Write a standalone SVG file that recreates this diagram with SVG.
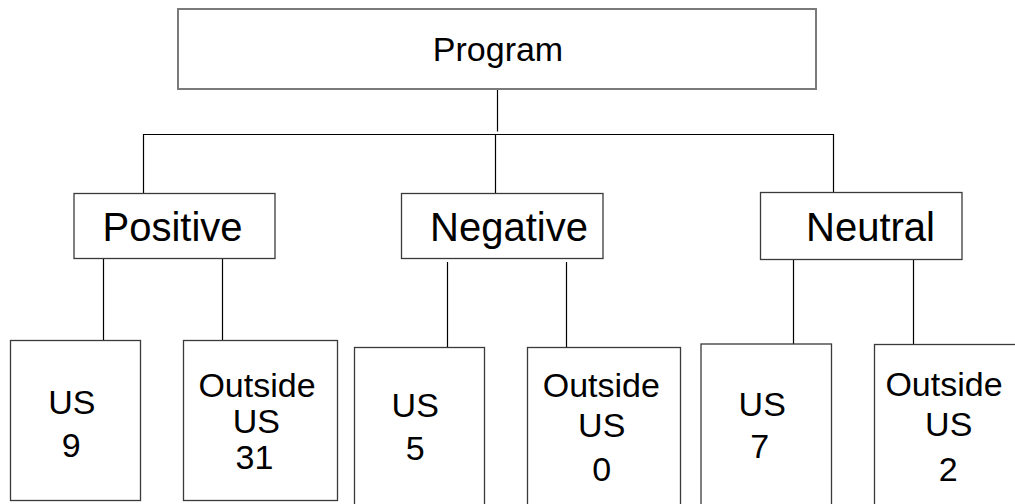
<svg xmlns="http://www.w3.org/2000/svg" width="1015" height="504" viewBox="0 0 1015 504">
<style>
  .box { fill: #ffffff; stroke: #3a3a3a; stroke-width: 1.3; }
  .top { fill: #ffffff; stroke: #7a7a7a; stroke-width: 2; }
  .conn line { stroke: #000000; stroke-width: 1.2; }
  text { font-family: "Liberation Sans", Arial, sans-serif; fill: #000000; text-anchor: middle; }
  .t1 { font-size: 34px; }
  .t2 { font-size: 40px; }
  .t3 { font-size: 34px; }
</style>
<rect width="1015" height="504" fill="#ffffff"/>
<g id="connectors" class="conn">
  <line x1="497.5" y1="89" x2="497.5" y2="131.5"/>
  <line x1="143" y1="134.5" x2="833.5" y2="134.5"/>
  <line x1="143.5" y1="134" x2="143.5" y2="194"/>
  <line x1="495.5" y1="135" x2="495.5" y2="198"/>
  <line x1="833.5" y1="134" x2="833.5" y2="193"/>
  <line x1="103.5" y1="257" x2="103.5" y2="341"/>
  <line x1="222.5" y1="257" x2="222.5" y2="341"/>
  <line x1="447.5" y1="262" x2="447.5" y2="347"/>
  <line x1="566.5" y1="262" x2="566.5" y2="347"/>
  <line x1="793.5" y1="259" x2="793.5" y2="344"/>
  <line x1="913.5" y1="259" x2="913.5" y2="345"/>
</g>
<g id="program">
  <rect class="top" x="178" y="9" width="638" height="80"/>
  <text class="t1" x="498" y="61">Program</text>
</g>
<g id="positive">
  <rect class="box" x="74" y="193.5" width="201" height="65"/>
  <text class="t2" x="172.5" y="241">Positive</text>
</g>
<g id="negative">
  <rect class="box" x="401.5" y="193.5" width="201.5" height="65"/>
  <text class="t2" x="509" y="241">Negative</text>
</g>
<g id="neutral">
  <rect class="box" x="760.5" y="192.5" width="201.5" height="67"/>
  <text class="t2" x="870.5" y="241">Neutral</text>
</g>
<g id="pos-us">
  <rect class="box" x="10.5" y="340.5" width="130" height="160"/>
  <text class="t3" x="71.8" y="413.7">US</text>
  <text class="t3" x="71.3" y="456.7">9</text>
</g>
<g id="pos-outside">
  <rect class="box" x="183.5" y="340.5" width="154" height="160"/>
  <text class="t3" x="257" y="397.3" font-size="35">Outside</text>
  <text class="t3" x="256.3" y="433.3">US</text>
  <text class="t3" x="254.5" y="469">31</text>
</g>
<g id="neg-us">
  <rect class="box" x="354.5" y="347.5" width="130" height="170"/>
  <text class="t3" x="415.2" y="417.3">US</text>
  <text class="t3" x="415.3" y="460">5</text>
</g>
<g id="neg-outside">
  <rect class="box" x="527.5" y="347.5" width="153" height="170"/>
  <text class="t3" x="601.3" y="397.3" font-size="35">Outside</text>
  <text class="t3" x="601.7" y="437">US</text>
  <text class="t3" x="601.7" y="481">0</text>
</g>
<g id="neu-us">
  <rect class="box" x="701" y="344" width="130.5" height="170"/>
  <text class="t3" x="762.2" y="415.7">US</text>
  <text class="t3" x="759.7" y="458">7</text>
</g>
<g id="neu-outside">
  <rect class="box" x="874.5" y="344.5" width="160" height="170"/>
  <text class="t3" x="944" y="395.7" font-size="37">Outside</text>
  <text class="t3" x="948.7" y="435.7">US</text>
  <text class="t3" x="948.3" y="480.7">2</text>
</g>
</svg>
